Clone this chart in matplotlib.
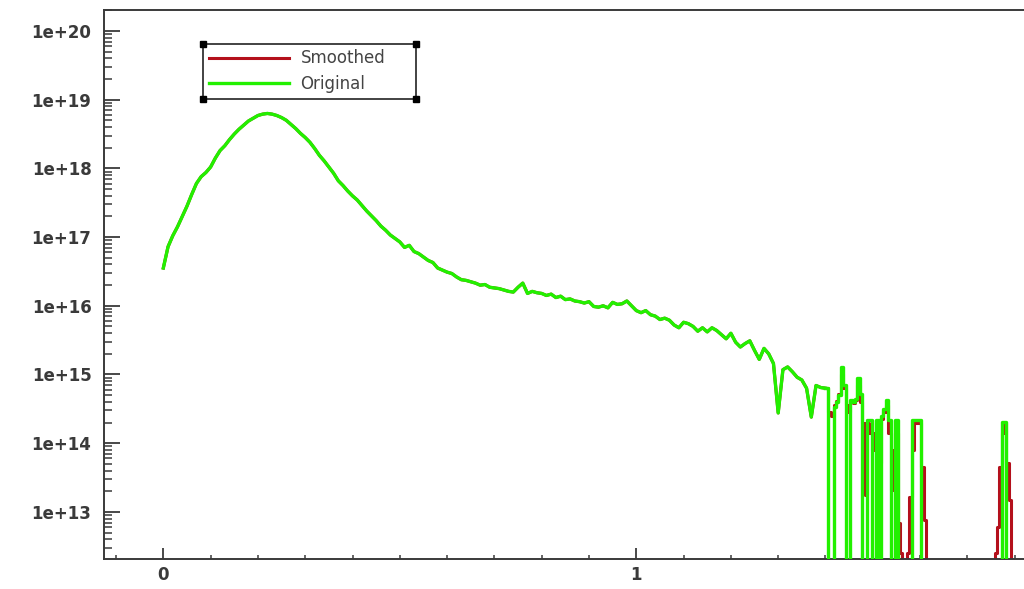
import matplotlib
matplotlib.use("Agg")
import matplotlib.pyplot as plt
from matplotlib.lines import Line2D
import numpy as np
import matplotlib.ticker as ticker

# log10 of bin contents, main body (bins of 0.01 starting at 0)
orig_main = [16.55, 16.86, 17.02, 17.15, 17.30, 17.45, 17.62, 17.78, 17.88, 17.94,
             18.02, 18.15, 18.26, 18.33, 18.42, 18.50, 18.57, 18.63, 18.69, 18.73,
             18.77, 18.79, 18.80, 18.79, 18.77, 18.74, 18.70, 18.64, 18.58, 18.51,
             18.45, 18.38, 18.29, 18.19, 18.11, 18.02, 17.93, 17.82, 17.75, 17.67,
             17.60, 17.54, 17.46, 17.38, 17.31, 17.24, 17.16, 17.10, 17.03, 16.98,
             16.93, 16.85, 16.88, 16.79, 16.76, 16.71, 16.66, 16.63, 16.55, 16.52,
             16.49, 16.47, 16.42, 16.38, 16.37, 16.35, 16.33, 16.30, 16.31, 16.27,
             16.26, 16.25, 16.23, 16.21, 16.20, 16.27, 16.33, 16.18, 16.21, 16.19,
             16.18, 16.15, 16.17, 16.12, 16.14, 16.09, 16.10, 16.07, 16.06, 16.04,
             16.06, 15.99, 15.98, 16.00, 15.97, 16.05, 16.02, 16.03, 16.07, 16.00,
             15.93, 15.90, 15.93, 15.87, 15.85, 15.80, 15.82, 15.79, 15.72, 15.68,
             15.76, 15.74, 15.70, 15.63, 15.68, 15.62, 15.68, 15.64, 15.58, 15.52,
             15.60, 15.47, 15.40, 15.45, 15.49, 15.35, 15.22, 15.38, 15.30, 15.16,
             14.44, 15.07, 15.11, 15.04, 14.96, 14.92, 14.80, 14.38, 14.84, 14.81,
             14.80]
# smoothed is indistinguishable from the original over the main body
smooth_main = orig_main

# tail (bins of 0.005 starting at 1.41), None = empty bin
orig_tail = [None, None, 14.53, 14.60, 14.70, 15.11, 14.85, None, None, 14.63,
             14.60, 14.65, 14.95, 14.72, None, None, 14.34, 14.34, None, None,
             14.34, None, 14.40, 14.50, 14.63, 14.34, None, None, 14.34, None,
             None, None, None, None, None, 14.34, 14.34, 14.34, 14.34, None,
             None, None, None, None, None, None, None, None, None, None,
             None, None, None, None, None, None, None, None, None, None,
             None, None, None, None, None, None, None, None, None, None,
             None, None, None, 14.31, 14.31, None, None, None, None]
smooth_tail = [14.45, 14.40, 14.55, 14.62, 14.72, 15.00, 14.80, 14.55, 14.45, 14.60,
               14.58, 14.63, 14.85, 14.60, 14.29, 13.25, 14.30, 14.15, 13.90, 14.15,
               14.30, 13.71, 14.35, 14.45, 14.55, 14.15, 13.32, 13.90, 14.15, 12.84,
               12.40, None, None, 12.40, 13.22, 13.90, 14.30, 14.30, 14.30, 13.65,
               12.88, None, None, None, None, None, None, None, None, None,
               None, None, None, None, None, None, None, None, None, None,
               None, None, None, None, None, None, None, None, None, None,
               12.40, 12.78, 13.65, 14.15, 14.29, 13.71, 13.17, None, None]

x_main = np.arange(len(orig_main)) * 0.01
x_tail = 1.41 + np.arange(len(orig_tail)) * 0.005


def counts(logs):
    return np.array([0.0 if v is None else 10.0 ** v for v in logs])


# tail is drawn as steps, joined to the last point of the main body
xt = np.concatenate([x_main[-1:], x_tail])
orig_t = np.concatenate([counts(orig_main[-1:]), counts(orig_tail)])
smooth_t = np.concatenate([counts(smooth_main[-1:]), counts(smooth_tail)])

txt = '#3a3a3a'
red = '#b4101c'
green = '#22f000'

fig = plt.figure(figsize=(10.24, 5.89), dpi=100)
ax = fig.add_axes([104 / 1024, 30 / 589, 920 / 1024, 549 / 589])

ax.plot(x_main, counts(smooth_main), color=red, lw=2.2, label='Smoothed', zorder=2)
ax.plot(xt, smooth_t, color=red, lw=2.2, drawstyle='steps-mid', zorder=2)
ax.plot(x_main, counts(orig_main), color=green, lw=2.4, label='Original', zorder=3)
ax.plot(xt, orig_t, color=green, lw=2.4, drawstyle='steps-mid', zorder=3)

ax.set_yscale('log')
ax.set_xlim(-0.1254, 1.8197)
ax.set_ylim(10 ** 12.314, 10 ** 20.306)

decades = [10.0 ** e for e in range(13, 21)]
ax.yaxis.set_major_locator(ticker.FixedLocator(decades))
ax.yaxis.set_minor_locator(ticker.LogLocator(base=10, subs=np.arange(2, 10), numticks=20))
ax.yaxis.set_major_formatter(ticker.FuncFormatter(lambda v, p: '1e+%d' % round(np.log10(v))))
ax.yaxis.set_minor_formatter(ticker.NullFormatter())
ax.xaxis.set_major_locator(ticker.FixedLocator([0, 1]))
ax.xaxis.set_minor_locator(ticker.MultipleLocator(0.1))
ax.xaxis.set_major_formatter(ticker.FormatStrFormatter('%d'))

ax.tick_params(axis='y', which='major', direction='in', length=11.5, width=1.3, color=txt,
               labelsize=12, labelcolor=txt, pad=9)
ax.tick_params(axis='y', which='minor', direction='in', length=5.5, width=1.1, color=txt)
ax.tick_params(axis='x', which='major', direction='in', length=8, width=1.3, color=txt,
               labelsize=12, labelcolor=txt, pad=5)
ax.tick_params(axis='x', which='minor', direction='in', length=3, width=1.1, color=txt)
for lab in ax.get_yticklabels() + ax.get_xticklabels():
    lab.set_fontweight('bold')

for s in ['left', 'bottom', 'top']:
    ax.spines[s].set_color(txt)
    ax.spines[s].set_linewidth(1.4)
ax.spines['right'].set_visible(False)

leg = ax.legend(loc='upper left', bbox_to_anchor=(99 / 920, 1 - 39 / 549, 213 / 920, 0.01),
                mode='expand', fontsize=12, handlelength=4.8, handletextpad=0.7,
                borderpad=0.35, labelspacing=0.45, borderaxespad=0, fancybox=False,
                framealpha=1, edgecolor='#222222')
leg.get_frame().set_linewidth(1.2)
for t in leg.get_texts():
    t.set_color('#444444')

fig.canvas.draw()
bb = leg.get_frame().get_window_extent().transformed(fig.transFigure.inverted())
fig.add_artist(Line2D([bb.x0, bb.x1, bb.x0, bb.x1], [bb.y0, bb.y0, bb.y1, bb.y1],
                      transform=fig.transFigure, marker='s', ms=4.5, ls='none',
                      color='black', zorder=10))

fig.savefig('out.png', dpi=100)
